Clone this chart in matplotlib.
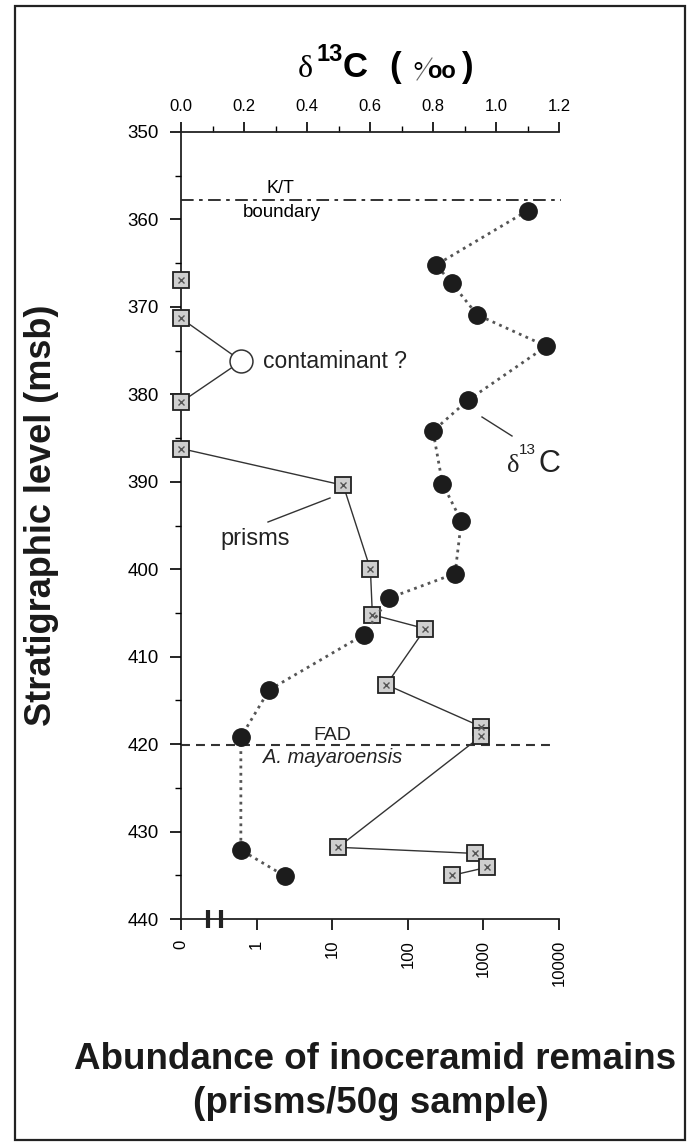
import numpy as np
import matplotlib
matplotlib.use('Agg')
import matplotlib.pyplot as plt
from matplotlib.patches import Rectangle
from matplotlib.lines import Line2D
import matplotlib.transforms as mtransforms

plt.rcParams['font.family'] = ['Liberation Sans', 'DejaVu Sans']

# ── Data ───────────────────────────────────────────────────────────────────────
# delta13C (per mil) vs stratigraphic level (msb)
d13c_level = [359.0, 365.2, 367.3, 370.9, 374.5, 380.7, 384.2, 390.2,
              394.5, 400.5, 403.3, 407.5, 413.8, 419.2, 432.1, 435.1]
d13c_value = [1.10, 0.81, 0.86, 0.94, 1.16, 0.91, 0.80, 0.83,
              0.89, 0.87, 0.66, 0.58, 0.28, 0.19, 0.19, 0.33]

# inoceramid prisms per 50 g sample
prism_level = [386.2, 390.4, 400.0, 405.2, 406.8, 413.2, 418.0, 419.1,
               431.8, 432.5, 434.1, 435.0]
prism_count = [0, 14, 32, 34, 170, 52, 930, 930, 12, 770, 1100, 390]

zero_level = [366.9, 371.3, 380.9]        # samples without prisms
contam_seq_level = [371.3, 376.2, 380.9]  # line through the contaminant
contam_seq_count = [0, 0.63, 0]
contam_level = 376.2
contam_count = 0.63

KT_LEVEL = 357.8
FAD_LEVEL = 420.1

y_ticks = list(range(350, 441, 10))
x_ticks = [0, 1, 10, 100, 1000, 10000]
x_labels = ['0', '1', '10', '100', '1000', '10000']
top_ticks = [0.0, 0.2, 0.4, 0.6, 0.8, 1.0, 1.2]

W, H = 695, 1143


def px(x, y):
    return x / W, 1 - y / H


def fwd(a):
    return np.log10(np.maximum(a, 0.1)) + 1


def inv(u):
    return 10 ** (np.asarray(u) - 1)


fig = plt.figure(figsize=(W / 100, H / 100), dpi=100)
fig.patch.set_facecolor('white')

# outer frame
fig.patches.append(Rectangle(px(15, 1140), 670 / W, 1134 / H, transform=fig.transFigure,
                             fill=False, lw=1.6, ec='#222'))

ax = fig.add_axes([181 / W, 1 - 919 / H, (559 - 181) / W, (919 - 132) / H])
ax.set_xscale('function', functions=(fwd, inv))
ax.set_xlim(0, 10000)
ax.set_ylim(440, 350)

# ── prisms ────────────────────────────────────────────────────────────────────
ax.plot(contam_seq_count, contam_seq_level, color='#333', lw=1.0, zorder=2, clip_on=False)
ax.plot(prism_count, prism_level, color='#333', lw=1.0, zorder=2, clip_on=False)
sq_x = [0] * len(zero_level) + prism_count
sq_y = zero_level + prism_level
ax.plot(sq_x, sq_y, ls='none', marker='s', ms=11.5, mfc='#cfcfcf', mec='#222',
        mew=1.3, zorder=3, clip_on=False)
ax.plot(sq_x, sq_y, ls='none', marker='x', ms=5, mec='#555', mew=1.0, zorder=4,
        clip_on=False)
ax.plot([contam_count], [contam_level], ls='none', marker='o', ms=16.5, mfc='white',
        mec='#333', mew=1.1, zorder=3)

# FAD line
ax.plot([0, 8300], [FAD_LEVEL, FAD_LEVEL], color='#333', lw=1.5,
        ls=(0, (4.3, 2.9)), clip_on=False, zorder=1)

ax.set_xticks(x_ticks)
ax.set_xticklabels(x_labels)
ax.xaxis.set_minor_locator(matplotlib.ticker.NullLocator())
ax.set_yticks(y_ticks)
ax.set_yticks(list(range(355, 440, 10)), minor=True)
ax.tick_params(axis='y', which='major', direction='out', length=8, width=1.2,
               labelsize=13.5, pad=8)
ax.tick_params(axis='y', which='minor', direction='out', length=4, width=1.0)
ax.tick_params(axis='x', which='major', direction='out', length=8, width=1.2,
               labelsize=12, labelrotation=90, pad=7)
for s in ['top', 'right']:
    ax.spines[s].set_visible(False)
for s in ['left', 'bottom']:
    ax.spines[s].set_linewidth(1.3)
    ax.spines[s].set_color('#222')
ax.spines['left'].set_zorder(1)

# axis break marks
brk = mtransforms.blended_transform_factory(ax.transData, ax.transAxes)
for xb in [0.228, 0.338]:
    ax.plot([xb, xb], [-0.011, 0.011], transform=brk, color='#222', lw=3,
            clip_on=False, solid_capstyle='butt')

# ── delta13C ──────────────────────────────────────────────────────────────────
ax2 = ax.twiny()
ax2.set_xlim(0, 1.2)
ax2.set_ylim(440, 350)
ax2.plot(d13c_value, d13c_level, color='#555', lw=2.0, ls=(0, (1, 1.6)), zorder=2)
ax2.plot(d13c_value, d13c_level, ls='none', marker='o', ms=12.5, mfc='#1c1c1c',
         mec='#1c1c1c', zorder=3, clip_on=False)
ax2.plot([0, 1.205], [KT_LEVEL, KT_LEVEL], color='#222', lw=1.3,
         ls=(0, (7, 3, 2, 3)), clip_on=False, zorder=1)

ax2.set_xticks(top_ticks)
ax2.set_xticklabels([f'{t:.1f}' for t in top_ticks])
ax2.set_xticks(np.arange(0.1, 1.2, 0.2), minor=True)
ax2.tick_params(axis='x', which='major', direction='out', length=7, width=1.2,
                labelsize=12, pad=6)
ax2.tick_params(axis='x', which='minor', direction='out', length=4, width=1.0)
for s in ['bottom', 'left', 'right']:
    ax2.spines[s].set_visible(False)
ax2.spines['top'].set_linewidth(1.3)
ax2.spines['top'].set_color('#222')

# ── title: delta13C (per mil) ─────────────────────────────────────────────────
fig.text(*px(298, 77), 'δ', family='Liberation Serif', fontsize=23, va='baseline')
fig.text(*px(317, 61), '13', fontsize=17, fontweight='bold', va='baseline')
fig.text(*px(343, 77), 'C', fontsize=25, fontweight='bold', va='baseline')
fig.text(*px(389, 77), '(', fontsize=25, fontweight='bold', va='baseline')
fig.text(*px(412, 82), '°', fontsize=20, va='baseline')
fig.lines.append(Line2D([417 / W, 432 / W], [1 - 80 / H, 1 - 58 / H],
                        transform=fig.transFigure, color='#666', lw=0.8))
fig.text(*px(427, 78), 'oo', fontsize=17, fontweight='bold', va='baseline')
fig.text(*px(462, 77), ')', fontsize=25, fontweight='bold', va='baseline')

# ── annotations ───────────────────────────────────────────────────────────────
fig.text(*px(280, 193), 'K/T', fontsize=13, ha='center', va='baseline')
fig.text(*px(282, 217), 'boundary', fontsize=13.5, ha='center', va='baseline')
fig.text(*px(263, 368), 'contaminant ?', fontsize=16.5, ha='left', va='baseline',
         color='#222')
fig.text(*px(255, 545), 'prisms', fontsize=17, ha='center', va='baseline', color='#222')
fig.lines.append(Line2D([268 / W, 330 / W], [1 - 522 / H, 1 - 498 / H],
                        transform=fig.transFigure, color='#333', lw=1.0))
fig.text(*px(507, 472), 'δ', family='Liberation Serif', fontsize=19, va='baseline',
         color='#222')
fig.text(*px(519, 454), '13', fontsize=11, va='baseline', color='#222')
fig.text(*px(538, 472), 'C', fontsize=22, va='baseline', color='#222')
fig.lines.append(Line2D([482 / W, 512 / W], [1 - 417 / H, 1 - 436 / H],
                        transform=fig.transFigure, color='#333', lw=1.0))
fig.text(*px(332, 740), 'FAD', fontsize=14, ha='center', va='baseline', color='#222')
fig.text(*px(333, 763), 'A. mayaroensis', fontsize=14.5, style='italic',
         ha='center', va='baseline', color='#222')

# ── axis titles ───────────────────────────────────────────────────────────────
fig.text(*px(42, 515), 'Stratigraphic level (msb)', fontsize=26, fontweight='bold',
         rotation=90, ha='center', va='center', color='#1a1a1a')
fig.text(*px(375, 1069), 'Abundance of inoceramid remains', fontsize=26.5,
         fontweight='bold', ha='center', va='baseline', color='#1a1a1a')
fig.text(*px(371, 1113), '(prisms/50g sample)', fontsize=26.5,
         fontweight='bold', ha='center', va='baseline', color='#1a1a1a')

fig.savefig('out.png', dpi=100)
